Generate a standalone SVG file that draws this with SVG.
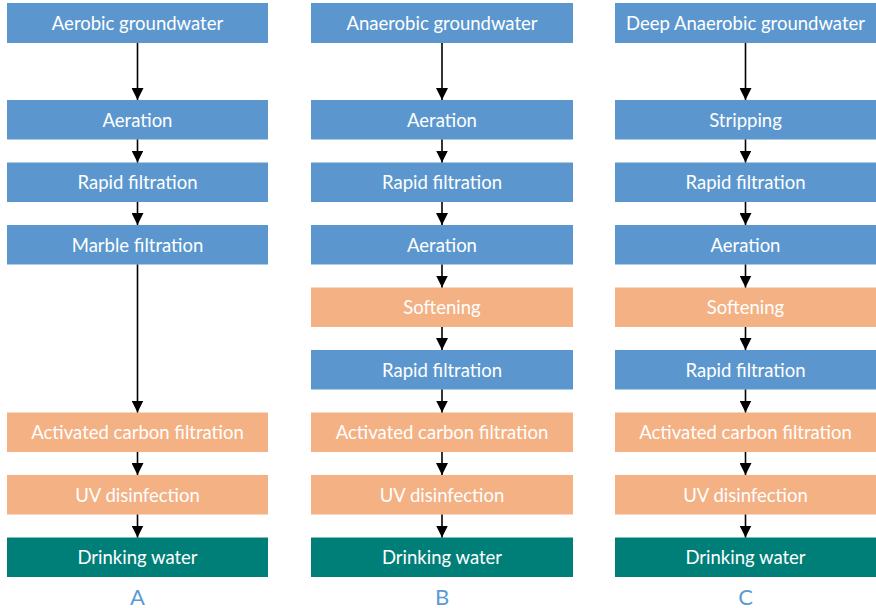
<svg xmlns="http://www.w3.org/2000/svg" width="876" height="608" viewBox="0 0 876 608">
<style>
.b{fill:#5B97CE}.o{fill:#F4B184}.t{fill:#007E78}
.lbl{font-family:Lato,"Open Sans",sans-serif;font-size:18.5px;fill:#fff;text-anchor:middle;dominant-baseline:central}
.let{font-family:Lato,"Open Sans",sans-serif;font-size:22px;fill:#5B9BD5;text-anchor:middle;dominant-baseline:central}
.c line{stroke:#000;stroke-width:1.6;marker-end:url(#ah)}
</style>
<defs>
<marker id="ah" viewBox="0 0 12 12" refX="12" refY="6" markerWidth="12" markerHeight="12" markerUnits="userSpaceOnUse" orient="auto">
<path d="M0,0L12,6L0,12z" fill="#000"/>
</marker>
</defs>
<rect width="876" height="608" fill="#fff"/>
<g id="A1"><rect class="b" x="7" y="3" width="261" height="40"/><text class="lbl" x="137.5" y="23">Aerobic groundwater</text></g>
<g id="A2"><rect class="b" x="7" y="100" width="261" height="39.5"/><text class="lbl" x="137.5" y="119.8">Aeration</text></g>
<g id="A3"><rect class="b" x="7" y="162.5" width="261" height="39.5"/><text class="lbl" x="137.5" y="182.3">Rapid filtration</text></g>
<g id="A4"><rect class="b" x="7" y="225" width="261" height="39.5"/><text class="lbl" x="137.5" y="244.8">Marble filtration</text></g>
<g id="A7"><rect class="o" x="7" y="412.5" width="261" height="39.5"/><text class="lbl" x="137.5" y="432.3">Activated carbon filtration</text></g>
<g id="A8"><rect class="o" x="7" y="475" width="261" height="39.5"/><text class="lbl" x="137.5" y="494.8">UV disinfection</text></g>
<g id="A9"><rect class="t" x="7" y="537.5" width="261" height="39.5"/><text class="lbl" x="137.5" y="557.3">Drinking water</text></g>
<g id="LA"><text class="let" x="137.5" y="596">A</text></g>

<g id="B1"><rect class="b" x="311" y="3" width="262" height="40"/><text class="lbl" x="442" y="23">Anaerobic groundwater</text></g>
<g id="B2"><rect class="b" x="311" y="100" width="262" height="39.5"/><text class="lbl" x="442" y="119.8">Aeration</text></g>
<g id="B3"><rect class="b" x="311" y="162.5" width="262" height="39.5"/><text class="lbl" x="442" y="182.3">Rapid filtration</text></g>
<g id="B4"><rect class="b" x="311" y="225" width="262" height="39.5"/><text class="lbl" x="442" y="244.8">Aeration</text></g>
<g id="B5"><rect class="o" x="311" y="287.5" width="262" height="39.5"/><text class="lbl" x="442" y="307.3">Softening</text></g>
<g id="B6"><rect class="b" x="311" y="350" width="262" height="39.5"/><text class="lbl" x="442" y="369.8">Rapid filtration</text></g>
<g id="B7"><rect class="o" x="311" y="412.5" width="262" height="39.5"/><text class="lbl" x="442" y="432.3">Activated carbon filtration</text></g>
<g id="B8"><rect class="o" x="311" y="475" width="262" height="39.5"/><text class="lbl" x="442" y="494.8">UV disinfection</text></g>
<g id="B9"><rect class="t" x="311" y="537.5" width="262" height="39.5"/><text class="lbl" x="442" y="557.3">Drinking water</text></g>
<g id="LB"><text class="let" x="442" y="596">B</text></g>

<g id="C1"><rect class="b" x="615" y="3" width="261" height="40"/><text class="lbl" x="745.5" y="23">Deep Anaerobic groundwater</text></g>
<g id="C2"><rect class="b" x="615" y="100" width="261" height="39.5"/><text class="lbl" x="745.5" y="119.8">Stripping</text></g>
<g id="C3"><rect class="b" x="615" y="162.5" width="261" height="39.5"/><text class="lbl" x="745.5" y="182.3">Rapid filtration</text></g>
<g id="C4"><rect class="b" x="615" y="225" width="261" height="39.5"/><text class="lbl" x="745.5" y="244.8">Aeration</text></g>
<g id="C5"><rect class="o" x="615" y="287.5" width="261" height="39.5"/><text class="lbl" x="745.5" y="307.3">Softening</text></g>
<g id="C6"><rect class="b" x="615" y="350" width="261" height="39.5"/><text class="lbl" x="745.5" y="369.8">Rapid filtration</text></g>
<g id="C7"><rect class="o" x="615" y="412.5" width="261" height="39.5"/><text class="lbl" x="745.5" y="432.3">Activated carbon filtration</text></g>
<g id="C8"><rect class="o" x="615" y="475" width="261" height="39.5"/><text class="lbl" x="745.5" y="494.8">UV disinfection</text></g>
<g id="C9"><rect class="t" x="615" y="537.5" width="261" height="39.5"/><text class="lbl" x="745.5" y="557.3">Drinking water</text></g>
<g id="LC"><text class="let" x="745.5" y="596">C</text></g>

<g id="connectors" class="c">
<line x1="137.5" y1="43" x2="137.5" y2="100"/>
<line x1="137.5" y1="139.5" x2="137.5" y2="162.5"/>
<line x1="137.5" y1="202" x2="137.5" y2="225"/>
<line x1="137.5" y1="264.5" x2="137.5" y2="412.5"/>
<line x1="137.5" y1="452" x2="137.5" y2="475"/>
<line x1="137.5" y1="514.5" x2="137.5" y2="537.5"/>

<line x1="442" y1="43" x2="442" y2="100"/>
<line x1="442" y1="139.5" x2="442" y2="162.5"/>
<line x1="442" y1="202" x2="442" y2="225"/>
<line x1="442" y1="264.5" x2="442" y2="287.5"/>
<line x1="442" y1="327" x2="442" y2="350"/>
<line x1="442" y1="389.5" x2="442" y2="412.5"/>
<line x1="442" y1="452" x2="442" y2="475"/>
<line x1="442" y1="514.5" x2="442" y2="537.5"/>

<line x1="745.5" y1="43" x2="745.5" y2="100"/>
<line x1="745.5" y1="139.5" x2="745.5" y2="162.5"/>
<line x1="745.5" y1="202" x2="745.5" y2="225"/>
<line x1="745.5" y1="264.5" x2="745.5" y2="287.5"/>
<line x1="745.5" y1="327" x2="745.5" y2="350"/>
<line x1="745.5" y1="389.5" x2="745.5" y2="412.5"/>
<line x1="745.5" y1="452" x2="745.5" y2="475"/>
<line x1="745.5" y1="514.5" x2="745.5" y2="537.5"/>
</g>
</svg>
